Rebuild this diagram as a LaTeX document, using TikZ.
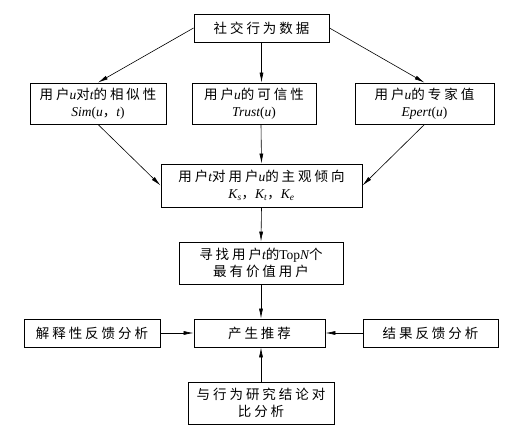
\documentclass[tikz,border=0pt]{standalone}
\usepackage{fontspec}
\setmainfont{Liberation Serif}
\newfontfamily\cjk{Noto Sans CJK SC}[LetterSpace=22]
\newcommand\lat[1]{{\rmfamily\itshape #1}}
\usetikzlibrary{arrows.meta}

\begin{document}
\begin{tikzpicture}[x=1pt, y=-1pt,
    box/.style={draw, line width=0.9pt, align=center, inner sep=0pt,
        font=\cjk\fontsize{13.5}{17.5}\selectfont},
    arr/.style={line width=0.6pt, -{Latex[length=10pt,width=4pt]}}]
    \useasboundingbox (0,0) rectangle (522,433);

    \node[box, minimum width=135pt, minimum height=28pt] (data) at (261.5,28) {社交行为数据};

    % three measures
    \node[box, minimum width=136pt, minimum height=41pt] (sim) at (98,103.5)
        {用户\lat{u}对\lat{t}的相似性\\\lat{Sim}{\rmfamily(}\lat{u}，\lat{t}{\rmfamily)}};
    \node[box, minimum width=124pt, minimum height=41pt] (trust) at (254,103.5)
        {用户\lat{u}的可信性\\\lat{Trust}{\rmfamily(}\lat{u}{\rmfamily)}};
    \node[box, minimum width=139pt, minimum height=41pt] (epert) at (424.5,103.5)
        {用户\lat{u}的专家值\\\lat{Epert}{\rmfamily(}\lat{u}{\rmfamily)}};

    \node[box, minimum width=201pt, minimum height=43pt] (tend) at (261.5,185.5)
        {用户\lat{t}对用户\lat{u}的主观倾向\\
         \lat{K}\textsubscript{\lat{s}}，\lat{K}\textsubscript{\lat{t}}，\lat{K}\textsubscript{\lat{e}}};
    \node[box, minimum width=164pt, minimum height=42pt] (topn) at (261,263)
        {寻找用户\lat{t}的{\rmfamily Top}\lat{N}个\\最有价值用户};

    % recommendation row
    \node[box, minimum width=131pt, minimum height=28pt] (rec) at (259.5,333) {产生推荐};
    \node[box, minimum width=136pt, minimum height=28pt] (expl) at (92,333) {解释性反馈分析};
    \node[box, minimum width=135pt, minimum height=28pt] (res) at (430.5,333) {结果反馈分析};
    \node[box, minimum width=146pt, minimum height=42pt] (comp) at (261,403)
        {与行为研究结论对\\比分析};

    \coordinate (mid) at (261,0);
    \draw[arr] (data.west) -- (sim.north);
    \draw[arr] (data.south) -- (data.south |- trust.north);
    \draw[arr] (data.east) -- (epert.north);
    \draw[arr] (sim.south) -- (tend.west);
    \draw[arr] (mid |- trust.south) -- (tend.north);
    \draw[arr] (epert.south) -- (tend.east);
    \draw[arr] (tend.south) -- (topn.north);
    \draw[arr] (topn.south) -- (topn.south |- rec.north);
    \draw[arr] (expl.east) -- (rec.west);
    \draw[arr] (res.west) -- (rec.east);
    \draw[arr] (comp.north) -- (comp.north |- rec.south);
\end{tikzpicture}
\end{document}
